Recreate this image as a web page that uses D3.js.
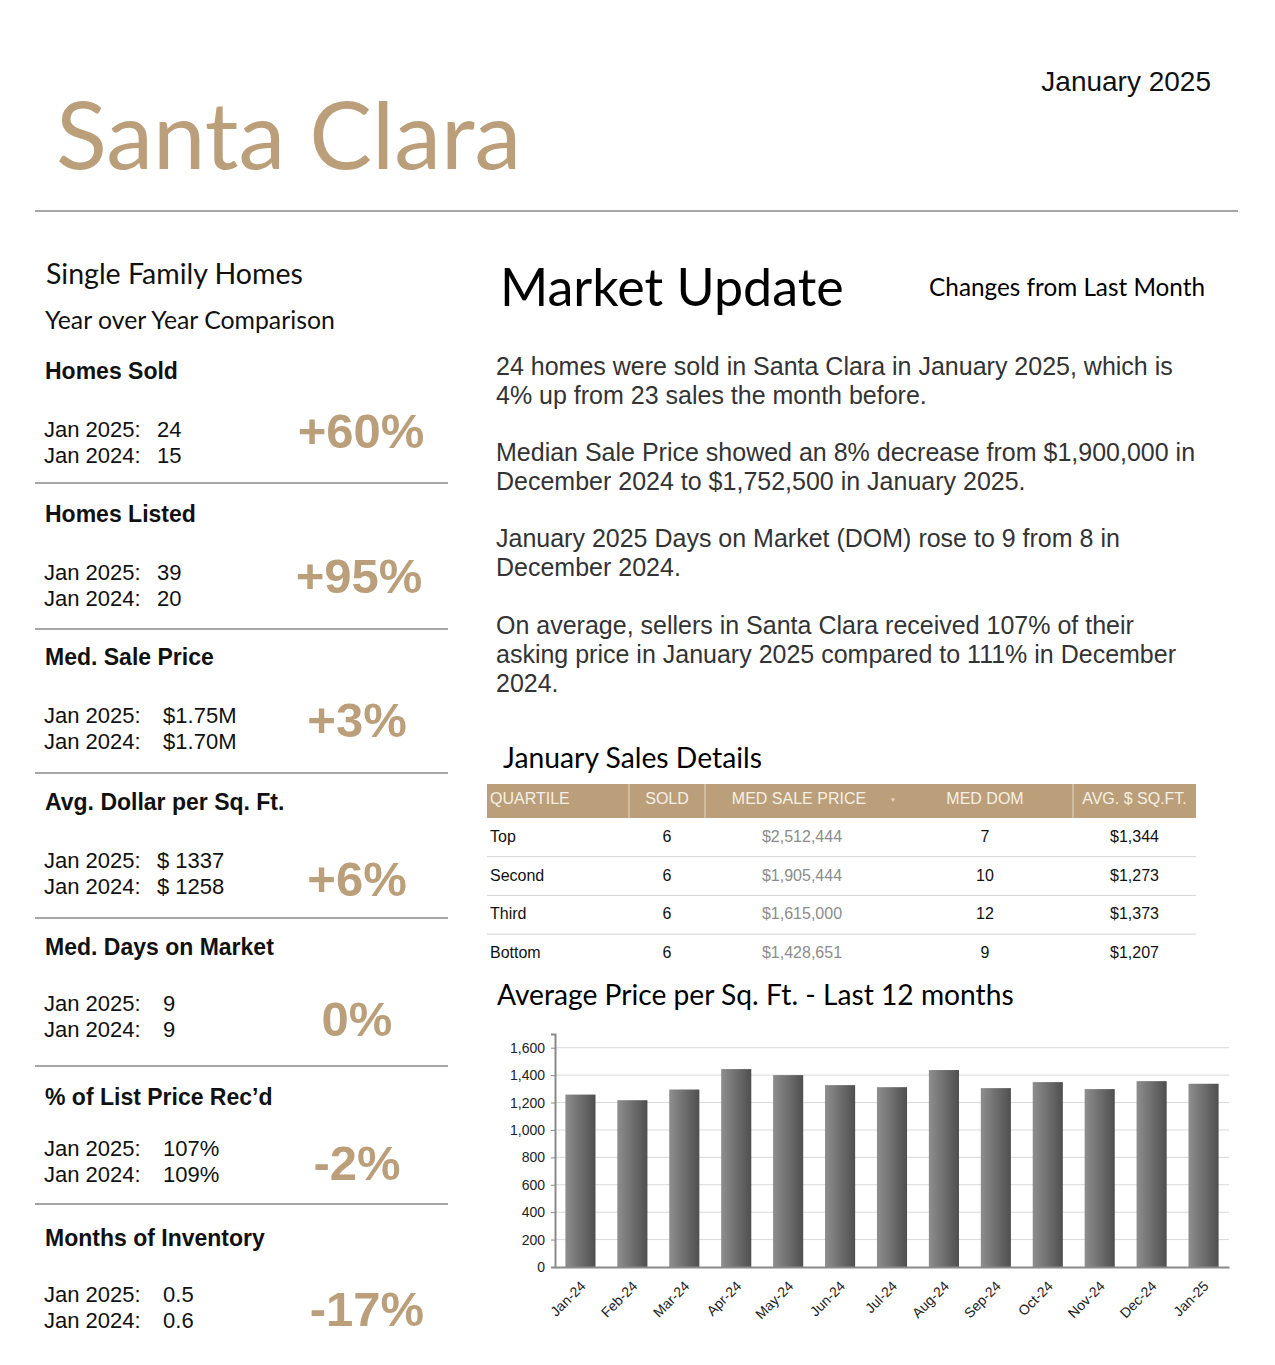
<!DOCTYPE html>
<html>
<head>
<meta charset="utf-8">
<script src="https://cdn.jsdelivr.net/npm/d3@7"></script>
<style>
  body { margin: 0; background: #fff; }
  svg { display: block; }
</style>
</head>
<body>
<svg id="page" width="1275" height="1365"></svg>
<script>
// header
var cityName = "Santa Clara";
var reportMonth = "January 2025";

// year over year panel
var metricNames = ["Homes Sold", "Homes Listed", "Med. Sale Price", "Avg. Dollar per Sq. Ft.",
  "Med. Days on Market", "% of List Price Rec\u2019d", "Months of Inventory"];
var jan2025Vals = ["24", "39", " $1.75M", "$ 1337", " 9", " 107%", " 0.5"];
var jan2024Vals = ["15", "20", " $1.70M", "$ 1258", " 9", " 109%", " 0.6"];
var yoyChanges = ["+60%", "+95%", "+3%", "+6%", "0%", "-2%", "-17%"];

// market update text, one array per paragraph (lines as laid out)
var paragraphs = [
  ["24 homes were sold in Santa Clara in January 2025, which is",
   "4% up from 23 sales the month before."],
  ["Median Sale Price showed an 8% decrease from $1,900,000 in",
   "December 2024 to $1,752,500 in January 2025."],
  ["January 2025 Days on Market (DOM) rose to 9 from 8 in",
   "December 2024."],
  ["On average, sellers in Santa Clara received 107% of their",
   "asking price in January 2025 compared to 111% in December",
   "2024."]
];

// sales details table
var tableHeaders = ["QUARTILE", "SOLD", "MED SALE PRICE", "MED DOM", "AVG. $ SQ.FT."];
var quartiles = ["Top", "Second", "Third", "Bottom"];
var soldCounts = [6, 6, 6, 6];
var medPrices = ["$2,512,444", "$1,905,444", "$1,615,000", "$1,428,651"];
var medDoms = [7, 10, 12, 9];
var avgSqft = ["$1,344", "$1,273", "$1,373", "$1,207"];

// bar chart
var months = ["Jan-24", "Feb-24", "Mar-24", "Apr-24", "May-24", "Jun-24", "Jul-24",
  "Aug-24", "Sep-24", "Oct-24", "Nov-24", "Dec-24", "Jan-25"];
var avgPriceSqft = [1258, 1217, 1295, 1444, 1400, 1327, 1312, 1437, 1305, 1349, 1298, 1356, 1337];
var yTicks = [0, 200, 400, 600, 800, 1000, 1200, 1400, 1600];

var tan = "#bb9f7a";
var arial = "'Liberation Sans', Arial, sans-serif";
var narrow = "'Liberation Sans Narrow', 'Liberation Sans', Arial, sans-serif";
var humanist = "Lato, 'Open Sans', sans-serif";

var svg = d3.select("svg#page");

// ---- header ----
svg.append("text")
  .attr("x", 1211).attr("y", 91)
  .attr("text-anchor", "end")
  .style("font-family", arial).style("font-size", "28px")
  .attr("fill", "#111")
  .text(reportMonth);

svg.append("text")
  .attr("x", 56).attr("y", 169)
  .style("font-family", humanist).style("font-size", "94px")
  .attr("fill", tan)
  .text(cityName);

svg.append("line")
  .attr("x1", 35).attr("x2", 1238)
  .attr("y1", 211).attr("y2", 211)
  .attr("stroke", "#a6a6a6").attr("stroke-width", 2);

// ---- left panel ----
svg.append("text")
  .attr("x", 46).attr("y", 284)
  .style("font-family", humanist).style("font-size", "28.5px")
  .attr("fill", "#111")
  .text("Single Family Homes");

svg.append("text")
  .attr("x", 45).attr("y", 329)
  .style("font-family", humanist).style("font-size", "24.8px")
  .attr("fill", "#111")
  .text("Year over Year Comparison");

// per-section layout (baselines of heading, first value line, big %, separator)
var headY = [379, 522, 665, 810, 955, 1105, 1246];
var valY = [437, 580, 723, 868, 1011, 1156, 1302];
var pctY = [448, 593, 737, 896, 1036, 1180, 1326];
var pctX = [361, 359, 357, 357, 357, 357, 367];
var sepY = [483, 629, 773, 918, 1066, 1204];

var sections = svg.selectAll("g.metric")
  .data(metricNames.map(function(d, i) {
    return {name: d, now: jan2025Vals[i], prev: jan2024Vals[i], change: yoyChanges[i], i: i};
  }))
  .enter().append("g")
  .attr("class", "metric");

sections.append("text")
  .attr("x", 45).attr("y", d => headY[d.i])
  .style("font-family", arial).style("font-size", "23px").style("font-weight", "bold")
  .attr("fill", "#111")
  .text(d => d.name);

sections.append("text")
  .attr("x", 44).attr("y", d => valY[d.i])
  .style("font-family", arial).style("font-size", "22px")
  .attr("fill", "#111")
  .text("Jan 2025:");

sections.append("text")
  .attr("x", 44).attr("y", d => valY[d.i] + 26)
  .style("font-family", arial).style("font-size", "22px")
  .attr("fill", "#111")
  .text("Jan 2024:");

sections.append("text")
  .attr("x", 157).attr("y", d => valY[d.i])
  .style("font-family", arial).style("font-size", "22px")
  .attr("fill", "#111")
  .attr("xml:space", "preserve")
  .text(d => d.now);

sections.append("text")
  .attr("x", 157).attr("y", d => valY[d.i] + 26)
  .style("font-family", arial).style("font-size", "22px")
  .attr("fill", "#111")
  .attr("xml:space", "preserve")
  .text(d => d.prev);

sections.append("text")
  .attr("x", d => pctX[d.i]).attr("y", d => pctY[d.i])
  .attr("text-anchor", "middle")
  .style("font-family", arial).style("font-size", "49px").style("font-weight", "bold")
  .attr("fill", tan)
  .text(d => d.change);

svg.selectAll("line.sep")
  .data(sepY)
  .enter().append("line")
  .attr("class", "sep")
  .attr("x1", 35).attr("x2", 448)
  .attr("y1", d => d).attr("y2", d => d)
  .attr("stroke", "#a6a6a6").attr("stroke-width", 2);

// ---- market update ----
svg.append("text")
  .attr("x", 500).attr("y", 306)
  .style("font-family", humanist).style("font-size", "52px")
  .attr("fill", "#000")
  .text("Market Update");

svg.append("text")
  .attr("x", 1205).attr("y", 296)
  .attr("text-anchor", "end")
  .style("font-family", humanist).style("font-size", "24.3px")
  .attr("fill", "#000")
  .text("Changes from Last Month");

var paraTops = [375, 461, 547, 634];
var lineGap = 28.8;
var paras = svg.selectAll("text.para")
  .data(paragraphs)
  .enter().append("text")
  .attr("class", "para")
  .style("font-family", arial).style("font-size", "25px")
  .attr("fill", "#333");

paras.each(function(lines, pi) {
  d3.select(this).selectAll("tspan")
    .data(lines)
    .enter().append("tspan")
    .attr("x", 496)
    .attr("y", (d, li) => paraTops[pi] + li * lineGap)
    .text(d => d);
});

// ---- sales details table ----
svg.append("text")
  .attr("x", 503).attr("y", 768)
  .style("font-family", humanist).style("font-size", "28.3px")
  .attr("fill", "#000")
  .text("January Sales Details");

var colEdges = [487, 629, 705, 897, 1073, 1196];
var colAlign = ["start", "middle", "middle", "middle", "middle"];
var colX = function(c) {
  return c === 0 ? colEdges[0] + 3 : (colEdges[c] + colEdges[c + 1]) / 2;
};
var headTop = 784, headH = 34, rowTop = 818, rowH = 38.7;

svg.append("rect")
  .attr("x", colEdges[0]).attr("y", headTop)
  .attr("width", colEdges[5] - colEdges[0]).attr("height", headH)
  .attr("fill", tan);

svg.selectAll("line.colsep")
  .data([629, 705, 1073])
  .enter().append("line")
  .attr("class", "colsep")
  .attr("x1", d => d).attr("x2", d => d)
  .attr("y1", headTop).attr("y2", headTop + headH)
  .attr("stroke", "#e4d8c6").attr("stroke-width", 1);

svg.selectAll("text.head")
  .data(tableHeaders)
  .enter().append("text")
  .attr("class", "head")
  .attr("x", (d, i) => i === 2 ? 799 : colX(i))
  .attr("y", headTop + 20)
  .attr("text-anchor", (d, i) => colAlign[i])
  .style("font-family", narrow).style("font-size", "16px")
  .attr("fill", "#f6efe4")
  .text(d => d);

svg.append("text")
  .attr("x", 893).attr("y", headTop + 18)
  .attr("text-anchor", "middle")
  .style("font-family", arial).style("font-size", "6px")
  .attr("fill", "#e8dccb")
  .text("\u25BC");

var rows = quartiles.map(function(q, i) {
  return [q, soldCounts[i], medPrices[i], medDoms[i], avgSqft[i]];
});

var rowG = svg.selectAll("g.row")
  .data(rows)
  .enter().append("g")
  .attr("class", "row")
  .attr("transform", (d, i) => "translate(0," + (rowTop + i * rowH) + ")");

rowG.filter((d, i) => i < rows.length - 1)
  .append("line")
  .attr("x1", colEdges[0]).attr("x2", colEdges[5])
  .attr("y1", rowH).attr("y2", rowH)
  .attr("stroke", "#d4d4d4").attr("stroke-width", 1);

rowG.selectAll("text")
  .data(d => d)
  .enter().append("text")
  .attr("x", (d, c) => colX(c) + (c === 2 ? 1 : 0))
  .attr("y", 24)
  .attr("text-anchor", (d, c) => colAlign[c])
  .style("font-family", narrow).style("font-size", "16px")
  .attr("fill", (d, c) => c === 2 ? "#8c8c8c" : "#111")
  .text(d => d);

// ---- bar chart ----
svg.append("text")
  .attr("x", 497).attr("y", 1005)
  .style("font-family", humanist).style("font-size", "28.2px")
  .attr("fill", "#000")
  .text("Average Price per Sq. Ft. - Last 12 months");

var plot = {left: 555, right: 1229, top: 1034, bottom: 1267};

var x = d3.scaleBand()
  .domain(months)
  .range([plot.left, plot.right])
  .paddingInner(0.42)
  .paddingOuter(0.2);

var y = d3.scaleLinear()
  .domain([0, 1700])
  .range([plot.bottom, plot.top]);

var defs = svg.append("defs");
var grad = defs.append("linearGradient")
  .attr("id", "barGrad")
  .attr("x1", "0%").attr("x2", "100%")
  .attr("y1", "0%").attr("y2", "0%");
grad.append("stop").attr("offset", "0%").attr("stop-color", "#8e8e8e");
grad.append("stop").attr("offset", "100%").attr("stop-color", "#4f4f4f");

// gridlines
svg.selectAll("line.grid")
  .data(yTicks.filter(d => d > 0))
  .enter().append("line")
  .attr("class", "grid")
  .attr("x1", plot.left).attr("x2", plot.right)
  .attr("y1", d => y(d)).attr("y2", d => y(d))
  .attr("stroke", "#d9d9d9").attr("stroke-width", 1);

svg.selectAll("rect.bar")
  .data(avgPriceSqft)
  .enter().append("rect")
  .attr("class", "bar")
  .attr("x", (d, i) => x(months[i]))
  .attr("y", d => y(d))
  .attr("width", x.bandwidth())
  .attr("height", d => y(0) - y(d))
  .attr("fill", "url(#barGrad)");

var yAxis = svg.append("g")
  .attr("transform", "translate(" + plot.left + ",0)")
  .call(d3.axisLeft(y).tickValues(yTicks).tickSize(4).tickPadding(6).tickFormat(d3.format(",")));
yAxis.select(".domain").attr("stroke", "#8a8a8a").attr("stroke-width", 2);
yAxis.selectAll(".tick line").attr("stroke", "#8a8a8a");
yAxis.selectAll(".tick text")
  .style("font-family", arial).style("font-size", "14px").attr("fill", "#222");

var xAxis = svg.append("g")
  .attr("transform", "translate(0," + plot.bottom + ")")
  .call(d3.axisBottom(x).tickSize(0).tickPadding(0));
xAxis.select(".domain").attr("stroke", "#8a8a8a").attr("stroke-width", 2);
xAxis.selectAll(".tick text")
  .style("font-family", arial).style("font-size", "14px").attr("fill", "#222")
  .attr("text-anchor", "end")
  .attr("dx", "0").attr("dy", "0")
  .attr("transform", "translate(6,20) rotate(-45)");
</script>
</body>
</html>
